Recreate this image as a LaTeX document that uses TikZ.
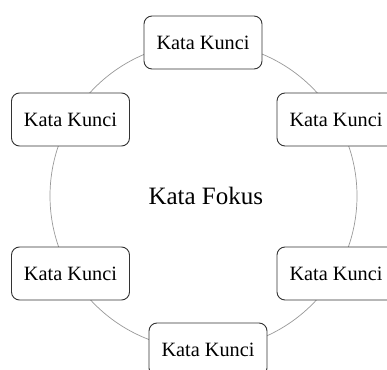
\documentclass[tikz,border=0pt]{standalone}
\usepackage{fontspec}
\setmainfont{Liberation Serif}
\begin{document}
\begin{tikzpicture}[x=1pt,y=1pt,
  kbox/.style={draw=black!80, line width=0.9pt, rounded corners=8pt, fill=white,
    minimum width=118pt, minimum height=53pt, inner sep=0pt, font=\fontsize{20.3}{22}\selectfont},
  ring/.style={draw=black!40, line width=0.7pt}]
\clip (0,0) rectangle (387,369);
\fill[white] (0,0) rectangle (387,369);
\coordinate (c) at (203.5,173);
\draw[ring] (c) circle (153.5);
\node[kbox] (t) at (203,326.5) {Kata Kunci};
\node[kbox] (ul) at (70.5,249.5) {Kata Kunci};
\node[kbox] (ur) at (336,249.5) {Kata Kunci};
\node[kbox] (ll) at (70.5,95.5) {Kata Kunci};
\node[kbox] (lr) at (336,95.5) {Kata Kunci};
\node[kbox] (b) at (208,19.5) {Kata Kunci};
\node[font=\fontsize{25}{28}\selectfont, anchor=base] (f) at (205.8,164) {Kata Fokus};
\end{tikzpicture}
\end{document}
